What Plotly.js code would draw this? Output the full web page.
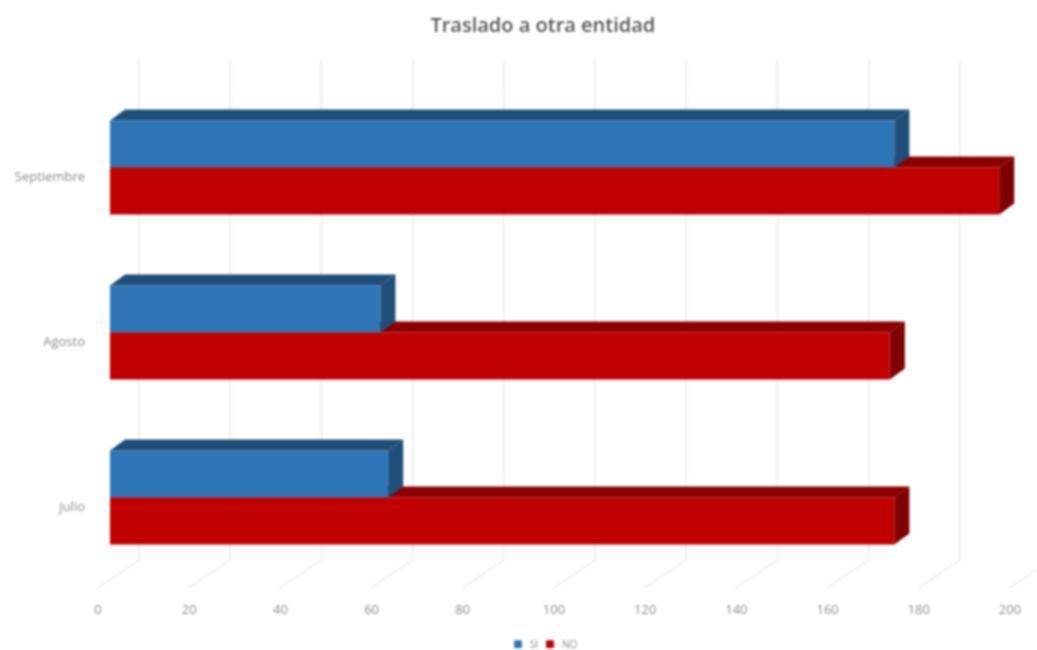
<!DOCTYPE html>
<html><head><meta charset="utf-8">
<script src="https://cdn.plot.ly/plotly-3.0.1.min.js"></script>
<style>html,body{margin:0;padding:0;background:#fff}#chart{filter:blur(0.9px)}</style></head>
<body><div id="chart" style="width:1037px;height:650px"></div>
<script>
const categories = ["Septiembre", "Agosto", "Julio"];
const siValues = [172, 59.3, 61];
const noValues = [195, 171, 172];
const tickValues = [0, 20, 40, 60, 80, 100, 120, 140, 160, 180, 200];

const BLUE = "#2E75B6", BLUE_DARK = "#1F4E79", RED = "#C00000", RED_DARK = "#8B0000";
const GAP = 0.43, H = (1 - GAP) / 2;
const DX = 3.3, DY = 0.0667;            // bar depth in axis units
const GX_BACK = 6.36, GX_FRONT = -2.85; // grid offset in axis units

function poly(pts){ return "M" + pts.map(p => p[0] + "," + p[1]).join("L") + "Z"; }
function face(pts, color){ return {type:"path", xref:"x", yref:"y", layer:"below", path:poly(pts), fillcolor:color, line:{width:0}}; }

const shapes = [];
tickValues.forEach(v => {
  shapes.push({type:"path", xref:"x", yref:"paper", layer:"below",
    path:`M${v+GX_BACK},1.0505L${v+GX_BACK},0.0404L${v+GX_FRONT},-0.0165`,
    line:{color:"#E6E6E6", width:1.2}});
});
categories.forEach((c, i) => {
  const s = siValues[i], n = noValues[i];
  shapes.push(face([[0,i],[DX,i-DY],[n+DX,i-DY],[n,i]], RED_DARK));
  shapes.push(face([[n,i],[n+DX,i-DY],[n+DX,i+H-DY],[n,i+H]], "#7F0000"));
  shapes.push(face([[0,i-H],[DX,i-H-DY],[s+DX,i-H-DY],[s,i-H]], BLUE_DARK));
  shapes.push(face([[s,i-H],[s+DX,i-H-DY],[s+DX,i-DY],[s,i]], BLUE_DARK));
});

const traces = [
  {type:"bar", orientation:"h", name:"SI", y:categories, x:siValues, marker:{color:BLUE}, hoverinfo:"x+y"},
  {type:"bar", orientation:"h", name:"NO", y:categories, x:noValues, marker:{color:RED}, hoverinfo:"x+y"}
];
const layout = {
  width:1037, height:650,
  paper_bgcolor:"#fff", plot_bgcolor:"rgba(0,0,0,0)",
  font:{family:"Open Sans, sans-serif", color:"#8c8c8c", size:13},
  title:{text:"Traslado a otra entidad", x:0.5235, xanchor:"center", y:0.962, yanchor:"middle",
         font:{family:"Open Sans, sans-serif", size:20, color:"#595959", weight:600}},
  margin:{l:92, r:0, t:85, b:70},
  barmode:"group", bargap:GAP, bargroupgap:0,
  xaxis:{range:[-3.947, 203.29], showgrid:false, zeroline:false, showline:false,
         tickmode:"array", tickvals:tickValues, ticklen:0, ticklabelstandoff:20, ticklabelshift:-12,
         tickfont:{size:13, color:"#8c8c8c"}},
  yaxis:{type:"category", categoryorder:"array", categoryarray:categories, range:[2.5,-0.5],
         showgrid:false, zeroline:false, showline:false, ticklen:0, ticklabelstandoff:6, ticklabelshift:-9,
         tickfont:{size:13, color:"#8c8c8c"}},
  legend:{orientation:"h", xref:"container", yref:"container", x:0.505, xanchor:"center", y:0.009, yanchor:"middle",
          font:{size:10, color:"#8c8c8c"}, itemwidth:30, traceorder:"normal"},
  shapes:shapes
};
Plotly.newPlot("chart", traces, layout, {displayModeBar:false, staticPlot:true}).then(gd => {
  // tighten the legend: smaller swatches and closer entries, as in the reference
  const items = gd.querySelectorAll(".legend .traces");
  items.forEach((g, k) => {
    const m = /translate\(([-\d.]+)[ ,]*([-\d.]*)/.exec(g.getAttribute("transform") || "") || [];
    const y = m[2] || 0, x0 = parseFloat(m[1] || 0);
    const first = items[0];
    const base = parseFloat((/translate\(([-\d.]+)/.exec(first.getAttribute("data-x") || first.getAttribute("transform")) || [])[1] || 0);
    g.setAttribute("data-x", "translate(" + x0 + ")");
    g.setAttribute("transform", "translate(" + (k === 0 ? x0 : base + 32) + "," + y + ")");
    g.querySelectorAll(".legendbar path, .legendpoints path").forEach(p => {
      const t = p.getAttribute("transform") || "";
      p.setAttribute("transform", t + " scale(0.65)");
    });
    const txt = g.querySelector(".legendtext");
    if (txt) txt.setAttribute("x", 32);
  });
  const lg = gd.querySelector(".legend");
  const sw = items[0].querySelector(".legendpoints path");
  const box = sw.getBoundingClientRect();
  const dx = 518 - (box.left + box.width / 2);
  const mt = /translate\(([-\d.]+)[ ,]*([-\d.]*)/.exec(lg.getAttribute("transform"));
  lg.setAttribute("transform", "translate(" + (parseFloat(mt[1]) + dx) + "," + mt[2] + ")");
});
</script></body></html>
